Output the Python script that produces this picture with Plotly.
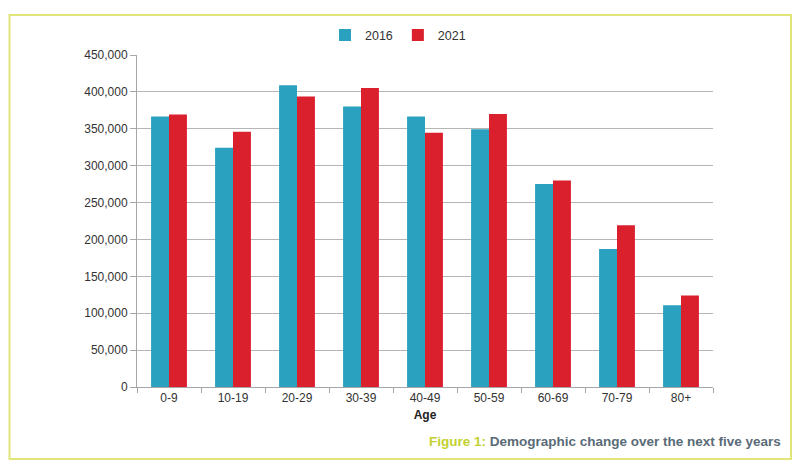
import plotly.graph_objects as go

ages = ["0-9", "10-19", "20-29", "30-39", "40-49", "50-59", "60-69", "70-79", "80+"]
pop_2016 = [366700, 324200, 408900, 380100, 366700, 349500, 275000, 187200, 110700]
pop_2021 = [369400, 346000, 393900, 405300, 344700, 370000, 280000, 219300, 124000]
y_ticks = [0, 50000, 100000, 150000, 200000, 250000, 300000, 350000, 400000, 450000]
y_labels = ["0", "50,000", "100,000", "150,000", "200,000", "250,000", "300,000", "350,000", "400,000", "450,000"]

# page body has an 8px margin, so the figure is built 8px smaller and offset
OFF = 8
W, H = 800 - OFF, 468 - OFF
L, R, T, B = 137 - OFF, 87, 50 - OFF, 81
pw, ph = W - L - R, H - T - B

def px(x):
    return (x - OFF - L) / pw

def py(y):
    return (H - B - (y - OFF)) / ph

font = "Liberation Sans, Arial, sans-serif"

fig = go.Figure()
fig.add_trace(go.Bar(name="2016", x=ages, y=pop_2016, marker_color="#2aa1be", marker_line_width=0))
fig.add_trace(go.Bar(name="2021", x=ages, y=pop_2021, marker_color="#da1f2d", marker_line_width=0))

fig.update_layout(
    width=W, height=H,
    margin=dict(l=L, r=R, t=T, b=B),
    paper_bgcolor="white", plot_bgcolor="white",
    barmode="group", bargap=0.44, bargroupgap=0,
    font=dict(family=font, size=12, color="#333333"),
    legend=dict(orientation="h", x=px(398), xanchor="center", y=py(30), yanchor="middle",
                font=dict(size=12.5, color="#333333"), itemwidth=30, tracegroupgap=0,
                traceorder="normal"),
    xaxis=dict(showline=True, linecolor="#a6a6a6", linewidth=1, ticks="outside",
               tickson="boundaries", ticklen=5, tickcolor="#a6a6a6",
               tickfont=dict(size=12, color="#333333"),
               title=dict(text="<b>Age</b>", font=dict(size=12, color="#222222"), standoff=6)),
    yaxis=dict(range=[0, 450000], tickvals=y_ticks, ticktext=y_labels,
               showline=True, linecolor="#a6a6a6", linewidth=1, ticks="outside",
               ticklen=6, tickcolor="#a6a6a6", showgrid=True, gridcolor="#b5b5b5",
               gridwidth=1, zeroline=False, tickfont=dict(size=12, color="#333333")),
    shapes=[dict(type="rect", xref="paper", yref="paper",
                 x0=px(9.5), x1=px(791), y0=py(460), y1=py(9.5),
                 line=dict(color="#e0e57a", width=2))],
    annotations=[dict(xref="paper", yref="paper", x=px(783), y=py(442),
                      xanchor="right", yanchor="middle", showarrow=False,
                      text="<b><span style='color:#c3d12f'>Figure 1:</span> Demographic change over the next five years</b>",
                      font=dict(family=font, size=13.5, color="#5a6b78"))],
)

fig.write_html("out.html")
